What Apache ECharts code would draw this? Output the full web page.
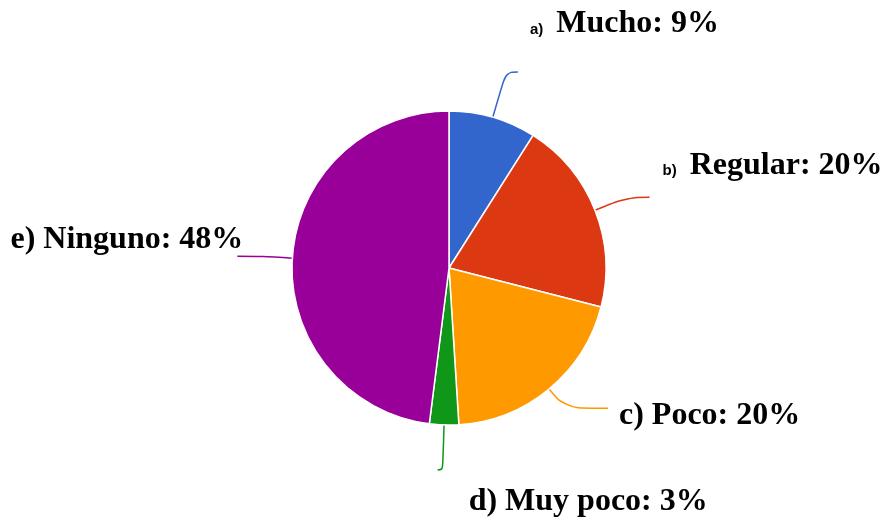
<!DOCTYPE html>
<html>
<head>
<meta charset="utf-8">
<script src="https://cdn.jsdelivr.net/npm/echarts@6/dist/echarts.min.js"></script>
<style>
  html, body { margin: 0; padding: 0; background: #fff; }
  #chart { width: 887px; height: 522px; }
</style>
</head>
<body>
<div id="chart"></div>
<script>
// Survey answers and their shares (%)
const categories = ['Mucho', 'Regular', 'Poco', 'Muy poco', 'Ninguno'];
const letters = ['a)', 'b)', 'c)', 'd)', 'e)'];
const percents = [9, 20, 20, 3, 48];

// Slice colours
const colors = ['#3366cc', '#dc3912', '#ff9900', '#109618', '#990099'];
// a) and b) prefixes are set in a smaller sans face
const smallPrefix = [true, true, false, false, false];
// leader line lengths: [radial segment, horizontal segment]
const leaderLengths = [[47, 12], [35, 22], [25, 43], [45, 5], [30, 25]];
// label shift away from the end of its leader line
const labelShift = [[7, -48], [8, -32], [6, 8], [36, 32], [11, -17]];
const labelAlign = [null, null, null, 'left', null];

const serif = '"Liberation Serif", "Times New Roman", serif';
const sans = '"Liberation Sans", Arial, sans-serif';

const chart = echarts.init(document.getElementById('chart'), null, { renderer: 'canvas' });

const data = categories.map((name, i) => ({
  name: name,
  value: percents[i],
  itemStyle: { color: colors[i] },
  labelLine: {
    length: leaderLengths[i][0],
    length2: leaderLengths[i][1],
    lineStyle: { color: colors[i] }
  },
  label: {
    formatter: smallPrefix[i]
      ? '{p|' + letters[i] + '} {t|' + name + ': ' + percents[i] + '%}'
      : '{t|' + letters[i] + ' ' + name + ': ' + percents[i] + '%}'
  }
}));

chart.setOption({
  backgroundColor: '#fff',
  animation: false,
  series: [{
    type: 'pie',
    center: [449, 268],
    radius: 157,
    startAngle: 90,
    clockwise: true,
    avoidLabelOverlap: false,
    emphasis: { disabled: true },
    itemStyle: { borderColor: '#fff', borderWidth: 1.5 },
    label: {
      show: true,
      position: 'outside',
      color: '#000',
      fontFamily: serif,
      fontWeight: 'bold',
      fontSize: 32,
      rich: {
        p: { fontFamily: sans, fontWeight: 'bold', fontSize: 15, color: '#000', verticalAlign: 'bottom', padding: [0, 5, 3, 0] },
        t: { fontFamily: serif, fontWeight: 'bold', fontSize: 32, color: '#000' }
      }
    },
    labelLine: { show: true, smooth: 0.4, lineStyle: { width: 1.5 } },
    labelLayout: function (params) {
      const i = params.dataIndex;
      const o = { dx: labelShift[i][0], dy: labelShift[i][1] };
      if (labelAlign[i]) o.align = labelAlign[i];
      return o;
    },
    data: data
  }]
});
</script>
</body>
</html>
